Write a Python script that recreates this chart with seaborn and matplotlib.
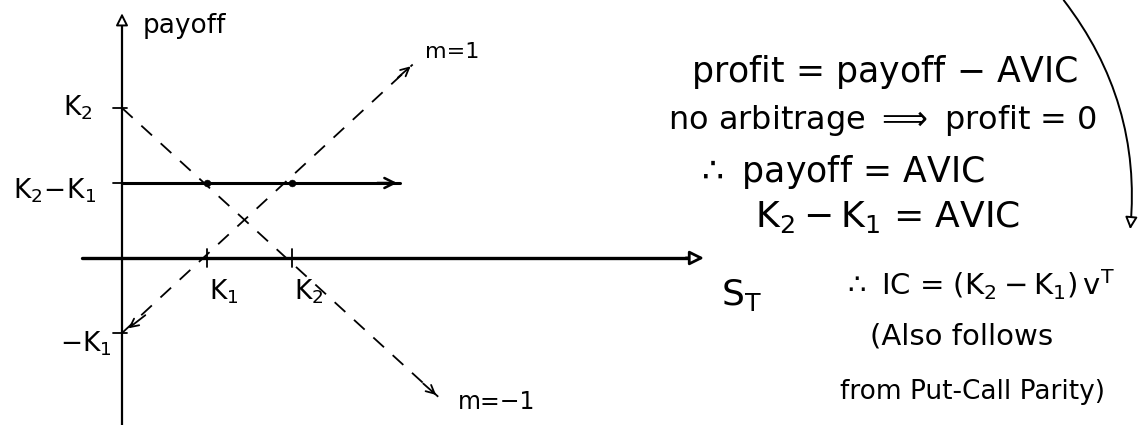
import numpy as np
import pandas as pd
import matplotlib
matplotlib.use("Agg")
import matplotlib.pyplot as plt
import seaborn as sns

# Strike levels and line end points (underlying price S_T, payoff)
K1, K2 = 1.0, 2.0
call_S = [0.0, 3.42]          # slope m = 1 line
call_payoff = [-1.0, 2.58]
put_S = [0.0, 3.72]           # slope m = -1 line
put_payoff = [2.0, -1.85]
flat_S = [0.0, 3.27]          # combined payoff K2 - K1
flat_payoff = [1.0, 1.0]
cross_S = [1.0, 2.0]          # where dashed lines meet the flat payoff
cross_payoff = [1.0, 1.0]

x_ticks = [K1, K2]
x_tick_labels = [r"$K_1$", r"$K_2$"]
y_ticks = [K2, K2 - K1, -K1]
y_tick_labels = [r"$K_2$", r"$K_2\!-\!K_1$", r"$-K_1$"]

notes = [
    r"profit = payoff $-$ AVIC",
    r"no arbitrage $\Longrightarrow$ profit = 0",
    r"$\therefore$ payoff = AVIC",
    r"$K_2 - K_1$ = AVIC",
    r"$\therefore$ IC = $(K_2 - K_1)\,v^T$",
    "(Also follows",
    "from Put-Call Parity)",
]

sns.set_theme(style="white")
plt.rcParams["font.family"] = ["DejaVu Sans"]
plt.rcParams["mathtext.default"] = "regular"

W, H = 1145, 425
fig = plt.figure(figsize=(W / 100, H / 100), dpi=100)
ax = fig.add_axes([0, 0, 1, 1])
ax.set_xlim(-122 / 85, (W - 122) / 85)
ax.set_ylim((258 - H) / 75, 258 / 75)
ax.axis("off")

ink = "black"
line_kw = dict(ax=ax, color=ink, sort=False, estimator=None, errorbar=None)


def pos(px, py):
    """Figure pixel position -> axes fraction."""
    return (px / W, 1 - py / H)


# axes of the payoff diagram
sns.lineplot(x=[-0.47, 6.75], y=[0, 0], lw=2.4, **line_kw)
sns.lineplot(x=[0, 0], y=[-2.25, 3.15], lw=1.6, **line_kw)
ax.annotate("", xy=(6.88, 0), xytext=(6.6, 0),
            arrowprops=dict(arrowstyle="-|>,head_length=0.7,head_width=0.35",
                            color=ink, lw=2, fc="white"))
ax.annotate("", xy=(0, 3.3), xytext=(0, 3.05),
            arrowprops=dict(arrowstyle="-|>,head_length=0.6,head_width=0.3",
                            color=ink, lw=1.4, fc="white"))

# dashed payoff lines
dash = (8, 6.5)
sns.lineplot(x=call_S, y=call_payoff, lw=1.3, **line_kw)
ax.lines[-1].set_dashes(dash)
sns.lineplot(x=put_S, y=put_payoff, lw=1.3, **line_kw)
ax.lines[-1].set_dashes(dash)
head = dict(arrowstyle="->,head_length=0.5,head_width=0.25", color=ink, lw=1.3)
ax.annotate("", xy=(call_S[1], call_payoff[1]),
            xytext=(call_S[1] - 0.2, call_payoff[1] - 0.2), arrowprops=head)
ax.annotate("", xy=(put_S[1], put_payoff[1]),
            xytext=(put_S[1] - 0.2, put_payoff[1] + 0.2), arrowprops=head)
ax.annotate("", xy=(call_S[0] + 0.05, call_payoff[0] + 0.04),
            xytext=(call_S[0] + 0.3, call_payoff[0] + 0.26), arrowprops=head)

# flat payoff K2 - K1
sns.lineplot(x=flat_S, y=flat_payoff, lw=2.2, **line_kw)
ax.annotate("", xy=(flat_S[1], flat_payoff[1]),
            xytext=(flat_S[1] - 0.3, flat_payoff[1]),
            arrowprops=dict(arrowstyle="->,head_length=0.6,head_width=0.3",
                            color=ink, lw=1.8))
sns.scatterplot(x=cross_S, y=cross_payoff, ax=ax, color=ink, s=24,
                edgecolor=ink, zorder=5)

# tick marks
for xt in x_ticks:
    sns.lineplot(x=[xt, xt], y=[-0.12, 0.12], lw=1.3, **line_kw)
for yt in y_ticks:
    sns.lineplot(x=[-0.1, 0.06], y=[yt, yt], lw=1.3, **line_kw)

# tick labels
fs_tick = 19
for xt, lab in zip(x_ticks, x_tick_labels):
    ax.text(xt + 0.2, -0.45, lab, ha="center", va="center", fontsize=fs_tick,
            color=ink)
ax.text(-0.35, y_ticks[0], y_tick_labels[0], ha="right", va="center",
        fontsize=fs_tick, color=ink)
ax.text(-0.3, y_ticks[1] - 0.1, y_tick_labels[1], ha="right", va="center",
        fontsize=fs_tick, color=ink)
ax.text(-0.12, y_ticks[2] - 0.15, y_tick_labels[2], ha="right", va="center",
        fontsize=fs_tick, color=ink)

# axis titles and slope labels
ax.text(*pos(143, 26), "payoff", transform=ax.transAxes, ha="left",
        va="center", fontsize=19, color=ink)
ax.text(*pos(721, 295), r"$S_T$", transform=ax.transAxes, ha="left",
        va="center", fontsize=26, color=ink)
ax.text(*pos(425, 52), "m=1", transform=ax.transAxes, ha="left",
        va="center", fontsize=16, color=ink)
ax.text(*pos(458, 402), "m=−1", transform=ax.transAxes, ha="left",
        va="center", fontsize=17, color=ink)

# working on the right
note_xy = [(885, 72), (883, 120), (840, 172), (888, 217), (978, 285),
           (962, 337), (973, 392)]
note_fs = [25, 23, 25, 26, 21, 21, 19]
for (px, py), line, fs in zip(note_xy, notes, note_fs):
    ax.text(*pos(px, py), line, transform=ax.transAxes, ha="center",
            va="center", fontsize=fs, color=ink)

ax.annotate("", xy=pos(1130, 232), xytext=pos(1062, -2),
            xycoords="axes fraction", textcoords="axes fraction",
            arrowprops=dict(arrowstyle="-|>,head_length=0.6,head_width=0.3",
                            color=ink, lw=1.4, fc="white",
                            connectionstyle="arc3,rad=-0.2"),
            annotation_clip=False)

fig.savefig("out.png", dpi=100, facecolor="white")
